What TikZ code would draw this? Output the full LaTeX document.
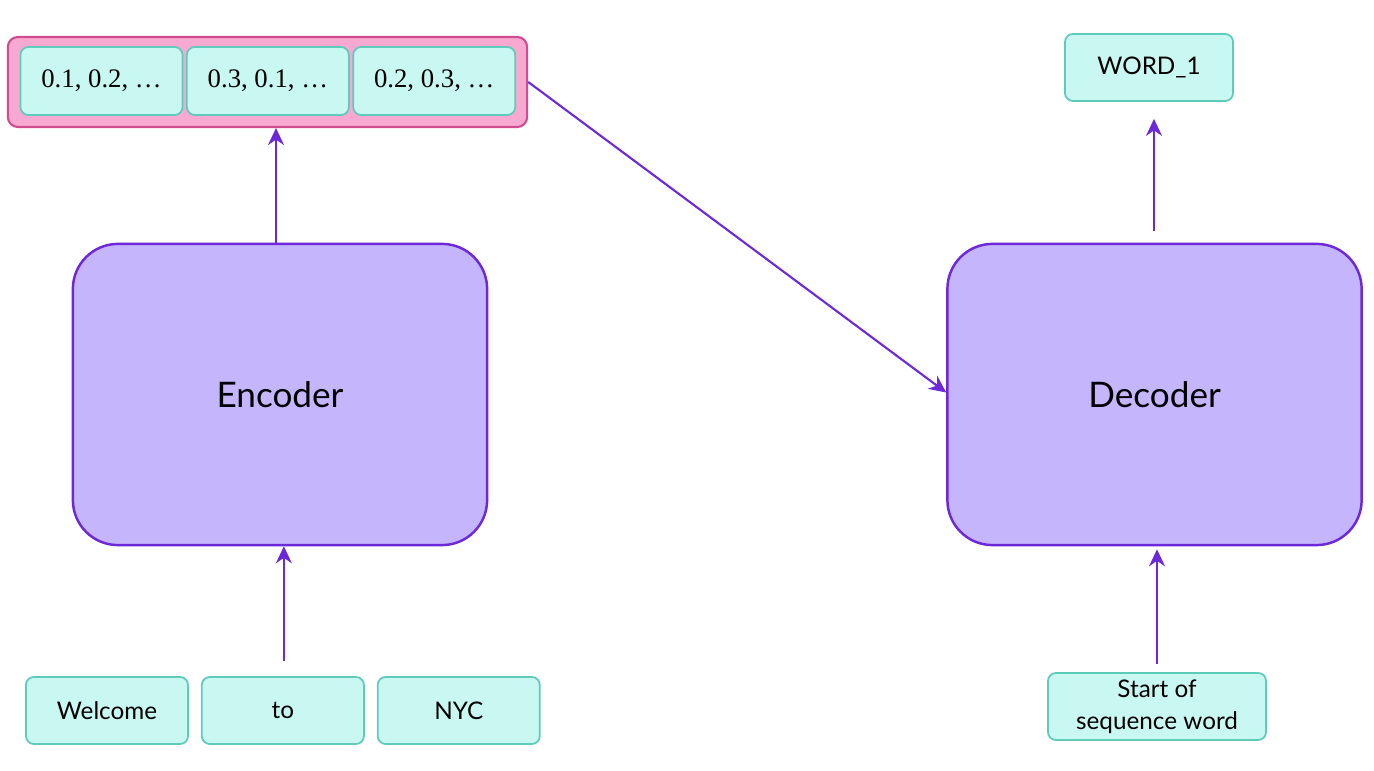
\documentclass[tikz,border=0pt]{standalone}
\usepackage{fontspec}
\setsansfont{Lato}
\newfontfamily\numfont{Liberation Serif}
\usepackage{tikz}
\usetikzlibrary{positioning, arrows.meta}

\definecolor{cellfill}{HTML}{C9F7F2}
\definecolor{celldraw}{HTML}{5ECBBB}
\definecolor{vecfill}{HTML}{F8A9D2}
\definecolor{vecdraw}{HTML}{D14B8F}
\definecolor{blockfill}{HTML}{C4B5FD}
\definecolor{blockdraw}{HTML}{6D28D9}

\begin{document}
\begin{tikzpicture}[
  x=0.01cm, y=-0.01cm,
  font=\sffamily\fontsize{6.9}{8.6}\selectfont,
  token/.style={rectangle, draw=celldraw, fill=cellfill, rounded corners=0.08cm, line width=0.5pt, minimum width=1.62cm, minimum height=0.67cm, inner sep=0pt, align=center},
  vcell/.style={token, minimum width=1.62cm, minimum height=0.68cm, font=\numfont\fontsize{7.6}{9}\selectfont},
  block/.style={rectangle, draw=blockdraw, fill=blockfill, rounded corners=0.45cm, line width=0.7pt, minimum width=4.14cm, minimum height=3.01cm, font=\sffamily\fontsize{10}{12}\selectfont},
  arr/.style={-{Stealth[length=1.7mm, width=1.6mm]}, blockdraw, line width=0.6pt}
]
  \useasboundingbox (0,0) rectangle (1374,771);
  % context vector
  \node[rectangle, draw=vecdraw, fill=vecfill, rounded corners=0.1cm, line width=0.6pt, minimum width=5.19cm, minimum height=0.90cm] (vec) at (267.5,82) {};
  \node[vcell] (c1) at (101.5,81) {0.1, 0.2, …};
  \node[vcell, right=0.025cm of c1] (c2) {0.3, 0.1, …};
  \node[vcell, right=0.025cm of c2] (c3) {0.2, 0.3, …};
  % encoder / decoder
  \node[block] (enc) at (280,394.5) {Encoder};
  \node[block] (dec) at (1154.5,394.5) {Decoder};
  % inputs and output
  \node[token] (w1) at (107,710.5) {Welcome};
  \node[token, right=0.12cm of w1] (w2) {to};
  \node[token, right=0.12cm of w2] (w3) {NYC};
  \node[token, minimum width=1.68cm] (out) at (1149,67.5) {WORD\_1};
  \node[token, minimum width=2.18cm, font=\sffamily\fontsize{6.9}{9.1}\selectfont] (sos) at (1157,706.5) {Start of\\sequence word};
  \draw[arr] ([xshift=-0.04cm]enc.north) -- ([xshift=-0.04cm]enc.north |- vec.south);
  \draw[arr, shorten <=0.15cm] ([xshift=0.01cm]w2.north) -- ([xshift=0.01cm]w2.north |- enc.south);
  \draw[arr, shorten <=0.12cm, shorten >=0.17cm] ([xshift=-0.005cm]dec.north) -- ([xshift=-0.005cm]dec.north |- out.south);
  \draw[arr, shorten <=0.08cm, shorten >=0.03cm] (sos.north) -- (sos.north |- dec.south);
  \draw[arr] (vec.east) -- ([yshift=0.02cm]dec.west);
\end{tikzpicture}
\end{document}
